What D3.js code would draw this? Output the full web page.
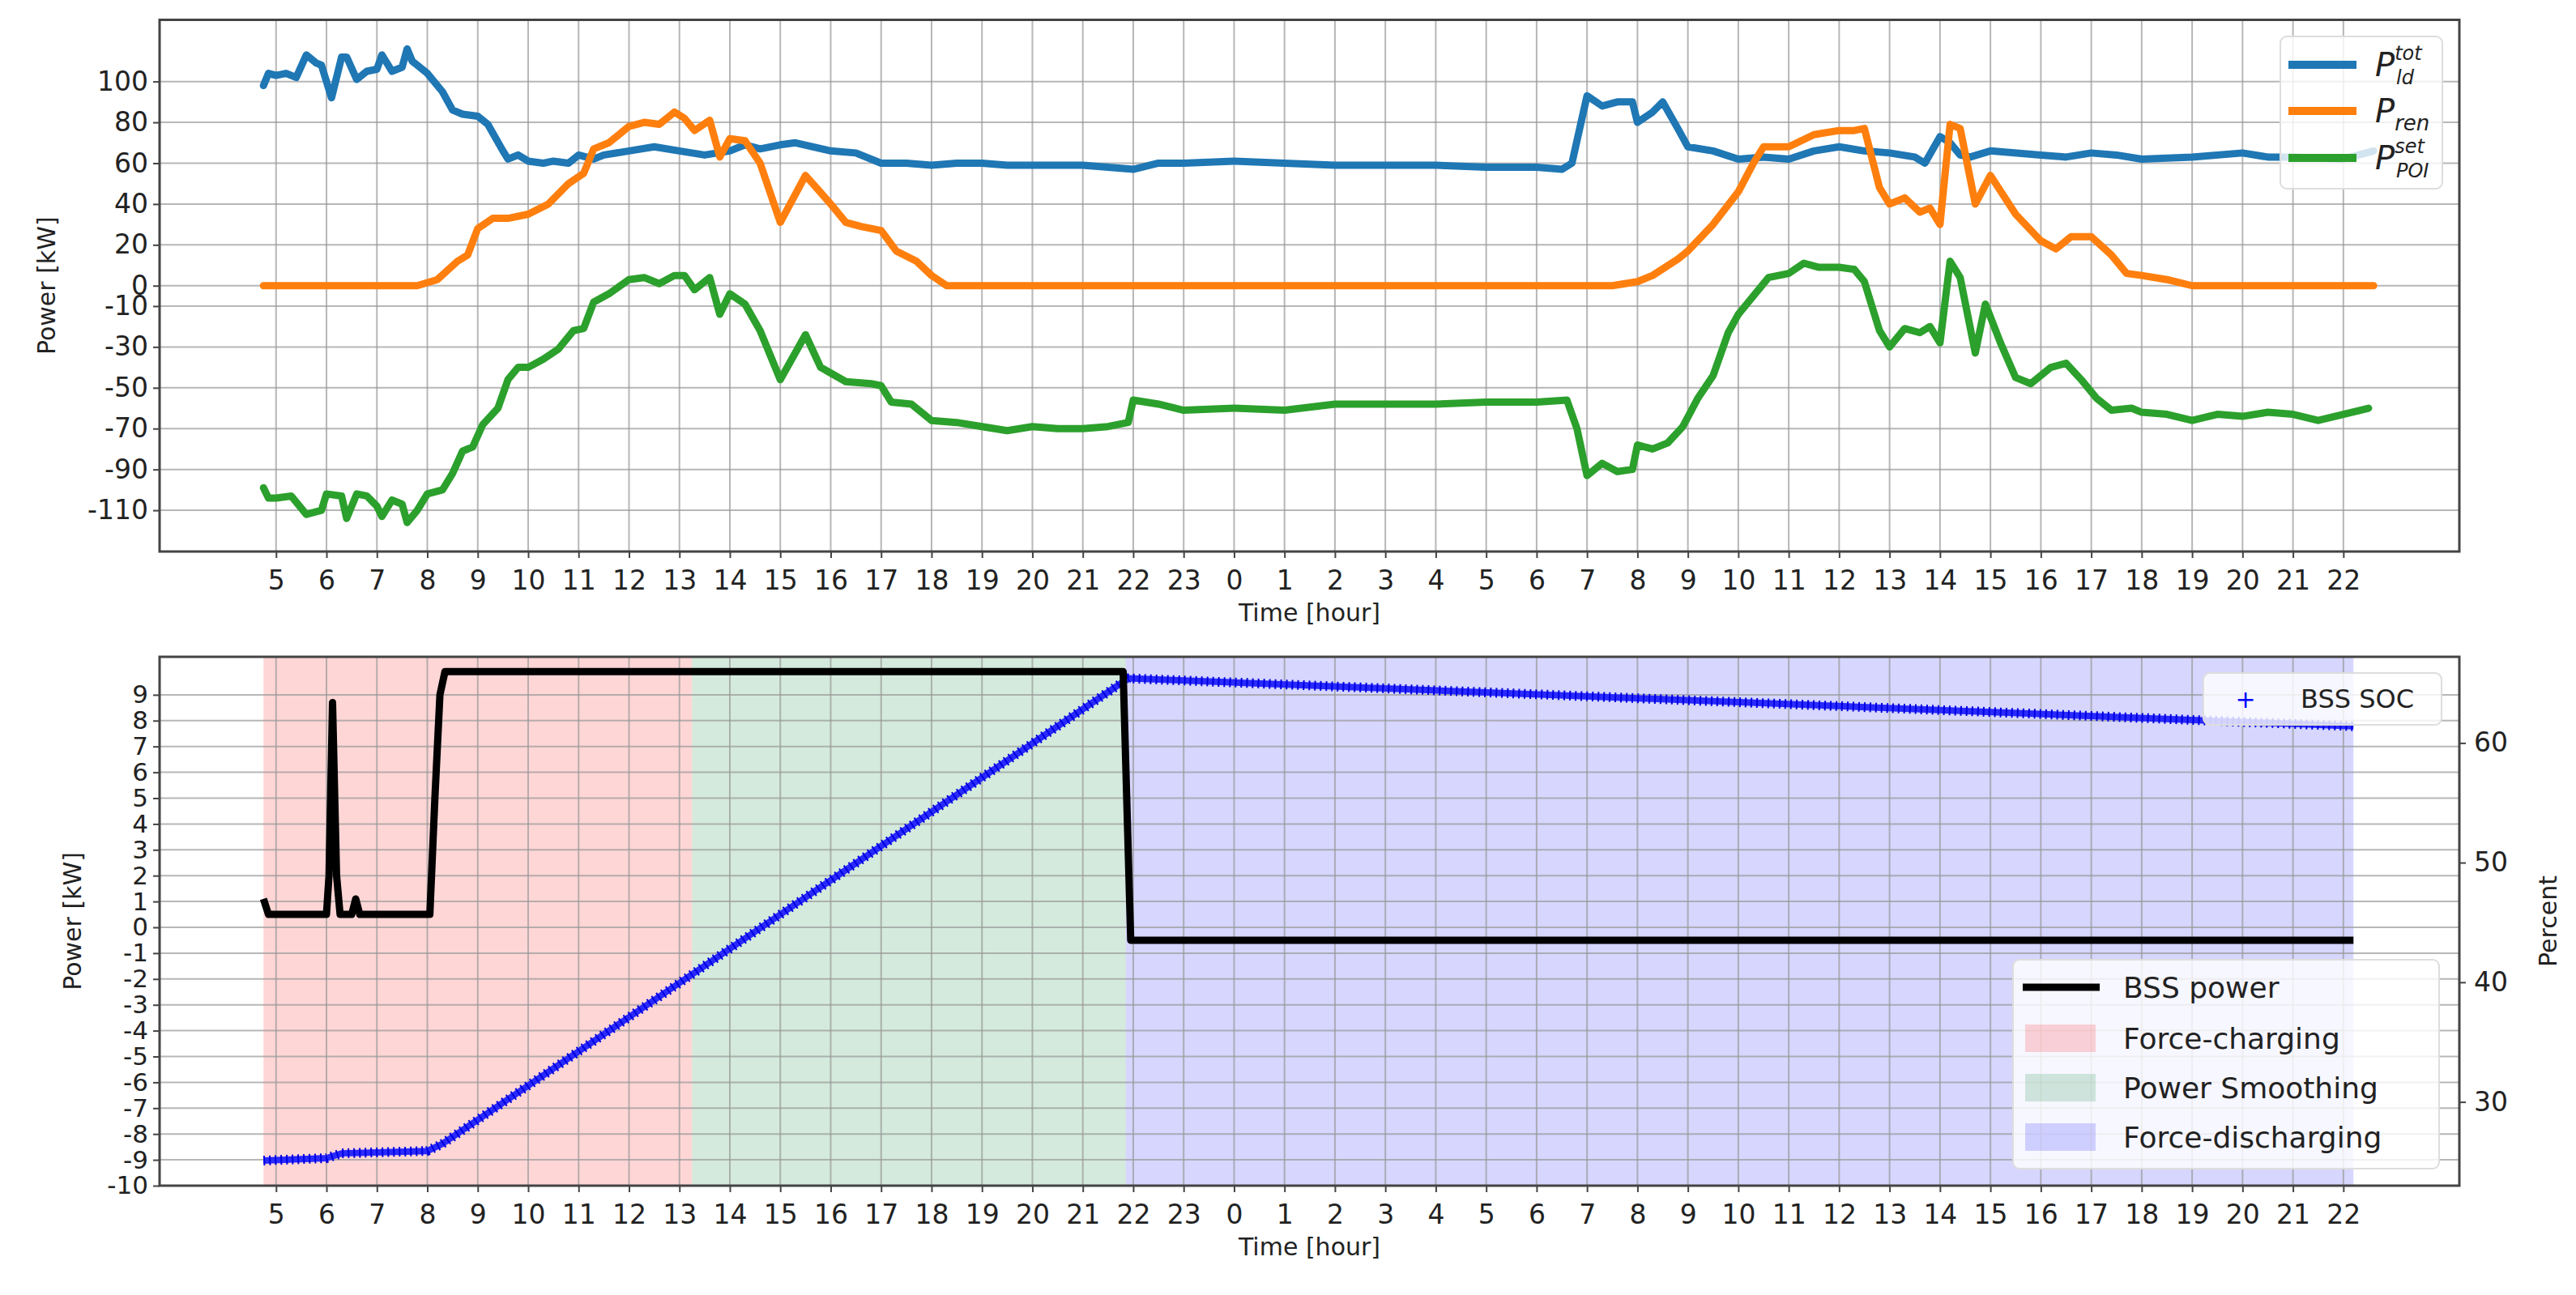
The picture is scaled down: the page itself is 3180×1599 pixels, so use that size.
<!DOCTYPE html>
<html><head><meta charset="utf-8">
<script src="https://cdn.jsdelivr.net/npm/d3@7"></script>
<style>body{margin:0;background:#fff}text{font-family:"DejaVu Sans",sans-serif;fill:#222}</style>
</head><body><svg id="chart" width="3180" height="1599"></svg>
<script>
// hours counted from midnight of day one, so 31 = 7 o'clock next day
const hourTicks = d3.range(5, 47)
const loadPts = [[4.75,98],[4.85,104],[5,103],[5.2,104],[5.4,102],[5.6,113],[5.8,109],[5.9,108],[6.1,92],[6.3,112],[6.4,112],[6.6,101],[6.8,105],[7,106],[7.1,113],[7.3,105],[7.5,107],[7.6,116],[7.7,110],[8,104],[8.3,95],[8.5,86],[8.7,84],[9,83],[9.2,79],[9.5,66],[9.6,62],[9.8,64],[10,61],[10.3,60],[10.5,61],[10.8,60],[11,64],[11.3,62],[11.5,64],[12,66],[12.5,68],[13,66],[13.5,64],[14,66],[14.3,69],[14.6,67],[15,69],[15.3,70],[16,66],[16.5,65],[17,60],[17.5,60],[18,59],[18.5,60],[19,60],[19.5,59],[20,59],[21,59],[22,57],[22.5,60],[23,60],[24,61],[25,60],[26,59],[27,59],[28,59],[29,58],[30,58],[30.5,57],[30.7,60],[31,93],[31.3,88],[31.6,90],[31.9,90],[32,80],[32.3,85],[32.5,90],[32.8,77],[33,68],[33.5,66],[34,62],[34.5,63],[35,62],[35.5,66],[36,68],[36.5,66],[37,65],[37.5,63],[37.7,60],[38,73],[38.2,70],[38.4,64],[38.6,63],[39,66],[40,64],[40.5,63],[41,65],[41.5,64],[42,62],[43,63],[44,65],[44.5,63],[45,63],[46,62],[46.6,66]]
const renPts = [[4.75,0],[7.8,0],[8.2,3],[8.6,12],[8.8,15],[9,28],[9.3,33],[9.6,33],[10,35],[10.4,40],[10.8,50],[11.1,55],[11.3,67],[11.6,70],[12,78],[12.3,80],[12.6,79],[12.9,85],[13.1,82],[13.3,76],[13.6,81],[13.8,63],[14,72],[14.3,71],[14.6,60],[15,31],[15.5,54],[16,40],[16.3,31],[16.6,29],[17,27],[17.3,17],[17.7,12],[18,5],[18.3,0],[31.5,0],[32,2],[32.3,5],[32.8,13],[33,17],[33.5,30],[34,46],[34.3,60],[34.5,68],[35,68],[35.5,74],[36,76],[36.3,76],[36.5,77],[36.8,48],[37,40],[37.3,43],[37.6,36],[37.8,38],[38,30],[38.2,79],[38.4,77],[38.7,40],[39,54],[39.5,35],[40,22],[40.3,18],[40.6,24],[41,24],[41.4,15],[41.7,6],[42,5],[42.5,3],[43,0],[46.6,0]]
const poiPts = [[4.75,-99],[4.85,-104],[5,-104],[5.3,-103],[5.6,-112],[5.9,-110],[6,-102],[6.3,-103],[6.4,-114],[6.6,-102],[6.8,-103],[7,-108],[7.1,-113],[7.3,-105],[7.5,-107],[7.6,-116],[7.8,-110],[8,-102],[8.3,-100],[8.5,-92],[8.7,-81],[8.9,-79],[9.1,-68],[9.4,-60],[9.6,-46],[9.8,-40],[10,-40],[10.3,-36],[10.6,-31],[10.9,-22],[11.1,-21],[11.3,-8],[11.6,-4],[12,3],[12.3,4],[12.6,1],[12.9,5],[13.1,5],[13.3,-2],[13.6,4],[13.8,-14],[14,-4],[14.3,-9],[14.6,-22],[15,-46],[15.5,-24],[15.8,-40],[16.3,-47],[16.8,-48],[17,-49],[17.2,-57],[17.6,-58],[18,-66],[18.5,-67],[19,-69],[19.5,-71],[20,-69],[20.5,-70],[21,-70],[21.5,-69],[21.9,-67],[22,-56],[22.5,-58],[23,-61],[24,-60],[25,-61],[26,-58],[27,-58],[28,-58],[29,-57],[30,-57],[30.6,-56],[30.8,-70],[31,-93],[31.3,-87],[31.6,-91],[31.9,-90],[32,-78],[32.3,-80],[32.6,-77],[32.9,-69],[33.2,-55],[33.5,-44],[33.8,-23],[34,-14],[34.3,-5],[34.6,4],[35,6],[35.3,11],[35.6,9],[36,9],[36.3,8],[36.5,2],[36.8,-22],[37,-30],[37.3,-21],[37.6,-23],[37.8,-20],[38,-28],[38.2,12],[38.4,4],[38.7,-33],[38.9,-9],[39.2,-28],[39.5,-45],[39.8,-48],[40.2,-40],[40.5,-38],[40.8,-46],[41.1,-55],[41.4,-61],[41.8,-60],[42,-62],[42.5,-63],[43,-66],[43.5,-63],[44,-64],[44.5,-62],[45,-63],[45.5,-66],[46,-63],[46.5,-60]]
const topYTicks = [100,80,60,40,20,0,-10,-30,-50,-70,-90,-110]

const bssPts = [[4.75,1.1],[4.85,0.5],[6,0.5],[6.05,2],[6.12,8.7],[6.2,2],[6.27,0.5],[6.5,0.5],[6.58,1.1],[6.66,0.5],[8.05,0.5],[8.15,5],[8.25,9],[8.35,9.9],[21.8,9.9],[21.95,-0.5],[46.2,-0.5]]
const socPts = [[4.75,25.1],[6,25.3],[6.3,25.7],[8,25.9],[8.3,26.5],[21.9,65.4],[46.2,61.4]]
const botYTicks = d3.range(-10, 10)
const socTicks = [30,40,50,60]
const modes = [
  {name:'Force-charging', from:4.75, to:13.25, color:'rgba(255,0,0,0.16)'},
  {name:'Power Smoothing', from:13.25, to:21.85, color:'rgba(0,128,50,0.17)'},
  {name:'Force-discharging', from:21.85, to:46.2, color:'rgba(0,0,255,0.16)'}
]

const svg = d3.select('#chart')
const L = 197, R = 3036
const x = d3.scaleLinear().domain([2.69, 48.3]).range([L, R])
const fmt = d => String(d)   // plain hyphen like matplotlib output

function frame(y0, y1, y, yticks){
  const g = svg.append('g')
  g.selectAll('.vg').data(hourTicks).enter().append('line')
    .attr('x1', d=>x(d)).attr('x2', d=>x(d)).attr('y1', y0).attr('y2', y1)
    .attr('stroke', '#999').attr('stroke-width', 2).attr('opacity', 0.7)
  g.selectAll('.hg').data(yticks).enter().append('line')
    .attr('x1', L).attr('x2', R).attr('y1', d=>y(d)).attr('y2', d=>y(d))
    .attr('stroke', '#999').attr('stroke-width', 2).attr('opacity', 0.7)
  return g
}
function axes(y0, y1, y, yticks, ylabX, yfs){
  const xa = svg.append('g').attr('transform', `translate(0,${y1})`)
    .call(d3.axisBottom(x).tickValues(hourTicks).tickFormat(d=>d%24).tickSize(8).tickPadding(16))
  xa.select('.domain').remove()
  xa.selectAll('text').attr('font-size', 33)
  const ya = svg.append('g').attr('transform', `translate(${L},0)`)
    .call(d3.axisLeft(y).tickValues(yticks).tickFormat(fmt).tickSize(8).tickPadding(6))
  ya.select('.domain').remove()
  ya.selectAll('text').attr('font-size', yfs)
  svg.selectAll('.tick line').attr('stroke', '#444').attr('stroke-width', 2)
  svg.append('rect').attr('x', L).attr('y', y0).attr('width', R-L).attr('height', y1-y0)
    .attr('fill', 'none').attr('stroke', '#444').attr('stroke-width', 3)
  svg.append('text').attr('x', (L+R)/2).attr('y', y1+86).attr('text-anchor','middle')
    .attr('font-size', 30).text('Time [hour]')
  svg.append('text').attr('transform', `translate(${ylabX},${(y0+y1)/2}) rotate(-90)`)
    .attr('text-anchor','middle').attr('dy','0.35em').attr('font-size', 30).text('Power [kW]')
}

// ---- top panel
const t0 = 24.5, t1 = 681
const yTop = d3.scaleLinear().domain([-130.2, 130.2]).range([t1, t0])
frame(t0, t1, yTop, topYTicks)
const lineTop = d3.line().x(d=>x(d[0])).y(d=>yTop(d[1]))
const topSeries = [[loadPts,'#1f77b4'],[renPts,'#ff7f0e'],[poiPts,'#2ca02c']]
topSeries.forEach(s=>{
  svg.append('path').attr('d', lineTop(s[0])).attr('fill','none').attr('stroke', s[1])
    .attr('stroke-width', 9).attr('stroke-linejoin','round').attr('stroke-linecap','round')
})
axes(t0, t1, yTop, topYTicks, 57, 33)

// legend top
const lg = svg.append('g')
lg.append('rect').attr('x', 2815).attr('y', 45).attr('width', 200).attr('height', 188).attr('rx', 8)
  .attr('fill', 'rgba(255,255,255,0.8)').attr('stroke', '#ddd').attr('stroke-width', 2)
const legTop = [['#1f77b4','ld','tot',80],['#ff7f0e','ren','',137],['#2ca02c','POI','set',195]]
legTop.forEach(d=>{
  lg.append('line').attr('x1', 2825).attr('x2', 2909).attr('y1', d[3]).attr('y2', d[3])
    .attr('stroke', d[0]).attr('stroke-width', 10)
  const t = lg.append('text').attr('x', 2932).attr('y', d[3]+14).attr('font-size', 40).attr('font-style','italic')
  t.append('tspan').text('P')
  if (d[2]) {
    t.append('tspan').attr('font-size', 24).attr('dy', -20).text(d[2])
    t.append('tspan').attr('font-size', 24).attr('x', 2958).attr('dy', 30).text(d[1])
  } else {
    t.append('tspan').attr('font-size', 26).attr('dy', 10).text(d[1])
  }
})

// ---- bottom panel
const b0 = 811, b1 = 1464
const yBot = d3.scaleLinear().domain([-10, 10.47]).range([b1, b0])
const ySoc = d3.scaleLinear().domain([23, 67.2]).range([b1, b0])
svg.selectAll('.mode').data(modes).enter().append('rect')
  .attr('x', d=>x(d.from)).attr('width', d=>x(d.to)-x(d.from))
  .attr('y', b0).attr('height', b1-b0).attr('fill', d=>d.color)
frame(b0, b1, yBot, botYTicks)
svg.append('path').attr('d', d3.line().x(d=>x(d[0])).y(d=>ySoc(d[1]))(socPts))
  .attr('fill','none').attr('stroke','#2a2aff').attr('stroke-width', 8)
svg.append('path').attr('d', d3.line().x(d=>x(d[0])).y(d=>ySoc(d[1]))(socPts))
  .attr('fill','none').attr('stroke','#0000e0').attr('stroke-width', 12).attr('stroke-dasharray','2 5')
svg.append('path').attr('d', d3.line().x(d=>x(d[0])).y(d=>yBot(d[1]))(bssPts))
  .attr('fill','none').attr('stroke','#000').attr('stroke-width', 9).attr('stroke-linejoin','round')
axes(b0, b1, yBot, botYTicks, 89, 31)
const ra = svg.append('g').attr('transform', `translate(${R},0)`)
  .call(d3.axisRight(ySoc).tickValues(socTicks).tickSize(8).tickPadding(10))
ra.select('.domain').remove()
ra.selectAll('text').attr('font-size', 33)
ra.selectAll('line').attr('stroke','#444').attr('stroke-width', 2)
svg.append('text').attr('transform', `translate(3145,${(b0+b1)/2}) rotate(-90)`)
  .attr('text-anchor','middle').attr('dy','0.35em').attr('font-size', 30).text('Percent')

// SOC legend
svg.append('rect').attr('x', 2720).attr('y', 831).attr('width', 294).attr('height', 64).attr('rx', 8)
  .attr('fill','rgba(255,255,255,0.8)').attr('stroke','#ddd').attr('stroke-width', 2)
svg.append('text').attr('x', 2772).attr('y', 863).attr('text-anchor','middle').attr('dy','0.35em')
  .attr('font-size', 30).style('fill','#00f').text('+')
svg.append('text').attr('x', 2840).attr('y', 863).attr('dy','0.35em').attr('font-size', 32).text('BSS SOC')

// modes legend
const ml = svg.append('g')
ml.append('rect').attr('x', 2485).attr('y', 1185).attr('width', 526).attr('height', 258).attr('rx', 8)
  .attr('fill','rgba(255,255,255,0.8)').attr('stroke','#ddd').attr('stroke-width', 2)
ml.append('line').attr('x1', 2497).attr('x2', 2592).attr('y1', 1219).attr('y2', 1219)
  .attr('stroke','#000').attr('stroke-width', 9)
ml.append('text').attr('x', 2621).attr('y', 1219).attr('dy','0.35em').attr('font-size', 36).text('BSS power')
modes.forEach((m, i)=>{
  const yy = 1282 + i*61
  ml.append('rect').attr('x', 2500).attr('y', yy-17).attr('width', 87).attr('height', 34).attr('fill', m.color)
  ml.append('text').attr('x', 2621).attr('y', yy).attr('dy','0.35em').attr('font-size', 36).text(m.name)
})
</script></body></html>
